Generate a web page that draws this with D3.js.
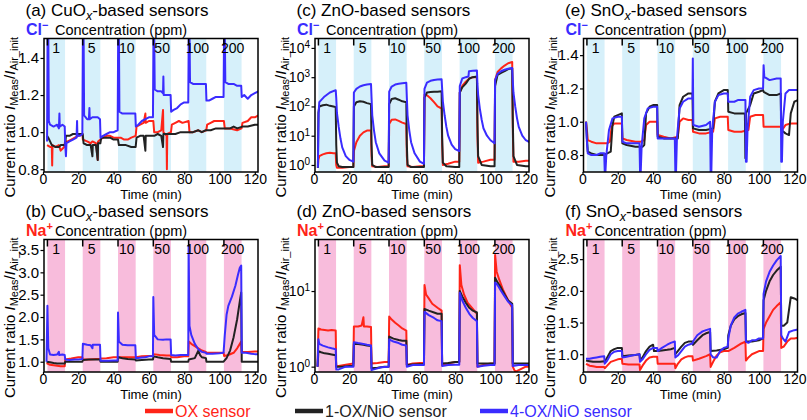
<!DOCTYPE html>
<html>
<head>
<meta charset="utf-8">
<script src="https://cdn.jsdelivr.net/npm/d3@7"></script>
<style>
  body { margin: 0; background: #fff; }
  svg text { font-family: "Liberation Sans", Arial, Helvetica, sans-serif; }
</style>
</head>
<body>
<svg id="fig" width="807" height="420"></svg>
<script>
// ---- exposure protocol ----
var bandStarts = [2.5, 22.5, 42.5, 62.5, 82.5, 102.5];
var bandLen = 10;
var concLabels = ["1", "5", "10", "50", "100", "200"];
var timeTicks = [0, 20, 40, 60, 80, 100, 120];
var seriesNames = ["OX sensor", "1-OX/NiO sensor", "4-OX/NiO sensor"];
var seriesColors = ["#ff2418", "#222222", "#3a2cff"];

// ---- (a) CuOx, Cl- ----
var cuClOX = [[2.3,0.93],[4,0.92],[5,0.92],[5.2,0.82],[5.4,0.93],[7,0.92],[9,0.93],[10,0.9],[12,0.92],[12.5,0.95],[14,0.95],[16,0.96],[18,0.97],[20,0.98],[22.3,0.99],[22.6,0.96],[25,0.95],[27,0.94],[28,0.95],[30,0.94],[31,0.85],[31.2,0.95],[32.5,0.96],[34,0.97],[36,0.98],[38,0.98],[40,0.97],[42.5,0.97],[44,0.97],[46,0.96],[48,0.96],[50,0.97],[52.5,0.98],[53,1.03],[55,1.04],[57,1.05],[58,1.1],[58.2,1.05],[60,1.06],[62.5,1.06],[63,1.0],[65,1.0],[67,1.01],[68,1.12],[68.2,1.0],[70,0.98],[70.2,0.8],[70.4,0.99],[72.5,1.0],[73,1.04],[75,1.05],[77,1.06],[79,1.05],[82.5,1.06],[83,1.0],[85,1.0],[88,1.01],[90,1.0],[92.5,1.01],[93,1.04],[95,1.05],[97,1.06],[100,1.06],[102.5,1.06],[103,1.02],[106,1.02],[110,1.01],[112.5,1.02],[113,1.05],[116,1.06],[118,1.08],[120,1.08],[122,1.09]];
var cuClNiO1 = [[2.3,0.98],[3,0.97],[4,0.95],[5,0.93],[7,0.92],[9,0.92],[10,0.93],[12.5,0.93],[13,0.98],[15,0.98],[17,0.99],[20,0.99],[22.5,0.99],[23,0.94],[25,0.93],[27,0.93],[28,0.87],[28.2,0.93],[30,0.93],[31,0.85],[31.2,0.94],[32.5,0.94],[33,0.97],[35,0.97],[38,0.97],[40,0.96],[42.5,0.96],[43,0.93],[45,0.93],[47,0.93],[50,0.92],[52.5,0.92],[53,0.97],[55,0.98],[57,0.98],[58,0.9],[58.2,0.98],[60,0.98],[62.5,0.98],[63,0.98],[65,0.99],[67,0.98],[68,0.92],[68.2,0.99],[70,0.99],[72,0.99],[75,0.99],[78,1.0],[80,1.0],[82,1.0],[85,1.0],[88,1.01],[90,1.0],[92,1.01],[95,1.01],[98,1.02],[100,1.02],[103,1.02],[106,1.02],[108,1.03],[110,1.02],[113,1.03],[116,1.03],[120,1.04],[122,1.04]];
var cuClNiO4 = [[2.3,0.95],[2.6,1.55],[3,1.55],[3.3,1.06],[4,1.04],[6,1.03],[8,1.04],[9,1.02],[9.3,1.1],[9.5,1.03],[11,1.04],[12.3,1.03],[12.6,0.93],[13,0.87],[13.3,0.94],[15,0.95],[17,0.96],[19,0.97],[19.3,1.06],[19.5,0.98],[21,0.98],[22.3,0.99],[22.6,1.55],[23,1.55],[23.3,1.09],[25,1.07],[26,1.07],[26.3,1.13],[26.5,1.07],[28,1.08],[31,1.08],[32.3,1.07],[32.6,0.97],[34,0.98],[36,0.99],[38,1.0],[40,1.0],[42.3,1.01],[42.6,1.55],[43,1.55],[43.3,1.11],[45,1.1],[48,1.1],[50,1.1],[52.3,1.1],[52.6,1.03],[54,1.04],[56,1.06],[58,1.07],[60,1.08],[62.3,1.08],[62.6,1.55],[63,1.55],[63.3,1.23],[65,1.22],[67,1.22],[68,1.21],[68.2,1.3],[68.4,1.2],[70,1.2],[72.3,1.2],[72.6,1.11],[74,1.12],[76,1.13],[78,1.15],[80,1.16],[82.3,1.16],[82.6,1.55],[83,1.55],[83.3,1.27],[85,1.26],[88,1.26],[90,1.26],[92.3,1.26],[92.6,1.17],[94,1.17],[96,1.18],[98,1.19],[100,1.19],[102.3,1.19],[102.6,1.55],[103,1.55],[103.3,1.27],[105,1.26],[108,1.26],[110,1.25],[112.3,1.25],[112.6,1.19],[114,1.2],[116,1.18],[118,1.2],[120,1.21],[122,1.22]];

// ---- (c) ZnO, Cl- ----
var znClOX = [[2.2,0.8],[2.5,1.5],[3,2.0],[5,2.3],[7,2.5],[9,2.6],[11,2.5],[12.3,2.5],[12.6,1.0],[13,0.8],[16,0.8],[20,0.85],[22.3,0.85],[22.6,3],[24,6],[26,10],[28,13],[30,15],[32.3,15],[32.6,2],[33,0.9],[36,0.85],[40,0.9],[42.3,0.9],[42.6,25],[44,35],[46,36],[48,32],[50,28],[52.3,25],[52.6,2],[53,0.9],[56,0.85],[60,0.9],[62.3,0.9],[62.6,250],[64,240],[66,190],[68,140],[70,100],[72.3,85],[72.6,5],[73,1.0],[76,1.1],[80,1.3],[82.3,1.3],[82.6,300],[84,500],[86,700],[88,900],[90,1000],[92.3,1000],[92.6,10],[93,1.2],[96,1.3],[100,1.5],[102.3,1.5],[102.6,800],[104,1500],[106,2000],[108,2500],[110,3000],[112.3,3300],[112.6,20],[113,1.3],[116,1.3],[120,1.4],[122,1.4]];
var znClNiO1 = [[2.2,0.8],[2.5,60],[3,100],[5,110],[7,115],[9,105],[11,100],[12.3,95],[12.6,5],[13,1.2],[14,0.9],[16,0.85],[20,0.85],[22.3,0.85],[22.6,100],[24,140],[26,150],[28,145],[30,130],[32.3,120],[32.6,5],[33,1.0],[35,0.85],[40,0.85],[42.3,0.85],[42.6,120],[44,180],[46,190],[48,170],[50,150],[52.3,140],[52.6,5],[53,1.0],[55,0.85],[60,0.85],[62.3,0.85],[62.6,200],[64,300],[66,310],[68,320],[70,320],[72.3,330],[72.6,10],[73,1.2],[75,0.9],[80,0.85],[82.3,0.85],[82.6,300],[84,450],[86,600],[88,900],[90,1000],[92.3,1050],[92.6,30],[93,2],[95,1.0],[100,0.9],[102.3,0.9],[102.6,500],[104,1200],[106,1400],[108,1600],[110,1900],[112.3,2000],[112.6,50],[113,2],[115,1.0],[120,0.9],[122,0.9]];
var znClNiO4 = [[2.2,0.8],[2.6,60],[3,140],[6,220],[9,300],[12.3,360],[12.6,200],[13,60],[14,20],[15,8],[16,4],[18,2],[20,1.5],[22.3,1.3],[22.6,300],[24,400],[26,480],[28,530],[30,560],[32.3,580],[32.6,200],[33,50],[34,15],[35,6],[37,2.5],[40,1.4],[42.3,1.2],[42.6,320],[44,480],[46,560],[48,600],[50,620],[52.3,640],[52.6,200],[53,50],[54,15],[55,6],[57,2.5],[60,1.3],[62.3,1.1],[62.6,400],[64,650],[66,750],[68,800],[70,830],[72.3,850],[72.6,400],[73,150],[74,50],[75,20],[76,10],[78,5],[80,3.5],[82.3,3],[82.6,500],[84,900],[86,1000],[87.5,1050],[87.8,1600],[90,1650],[92.3,1700],[92.6,600],[93,250],[94,80],[95,35],[96,18],[98,10],[100,7],[102.3,5.5],[102.6,800],[104,1300],[106,1600],[108,1800],[110,1950],[112.3,2050],[112.6,800],[113,300],[114,100],[115,40],[116,20],[118,10],[120,7],[122,6]];

// ---- (e) SnOx, Cl- ----
var snClOX = [[2,1.0],[2.5,0.95],[3,0.89],[5,0.88],[8,0.87],[12,0.87],[14,0.87],[15.5,0.88],[16.5,0.97],[18,0.99],[20,0.99],[22.3,0.99],[22.6,0.9],[25,0.89],[30,0.88],[33,0.88],[35,0.89],[36,0.98],[38,1.0],[40,1.0],[42.3,1.0],[42.6,0.92],[46,0.91],[50,0.9],[54,0.91],[55,1.0],[57,1.02],[60,1.01],[62.3,1.01],[62.6,0.94],[66,0.93],[70,0.93],[74,0.94],[75,1.02],[78,1.03],[82.3,1.03],[82.6,0.95],[86,0.94],[90,0.94],[94,0.95],[95,1.03],[98,1.04],[102.3,1.04],[102.6,0.97],[106,0.97],[110,0.97],[112.3,0.97],[113,0.95],[115,0.98],[118,0.99],[120,0.99],[122,0.99]];
var snClNiO1 = [[2,1.0],[2.5,0.9],[3,0.82],[5,0.81],[8,0.8],[12,0.8],[14,0.81],[16,0.82],[17,0.98],[18,1.03],[20,1.04],[22.3,1.05],[22.6,0.87],[25,0.86],[30,0.85],[34,0.85],[35,0.86],[36,1.05],[38,1.09],[40,1.1],[42.3,1.1],[42.6,0.91],[46,0.9],[50,0.9],[54,0.9],[55,1.1],[57,1.15],[60,1.17],[62.3,1.17],[62.6,0.96],[66,0.95],[70,0.95],[74,0.96],[75,1.12],[77,1.17],[80,1.19],[82.3,1.19],[82.6,1.06],[86,1.05],[90,1.05],[92,1.05],[92.3,0.78],[92.6,1.05],[95,1.1],[97,1.17],[100,1.18],[102.3,1.19],[102.6,1.18],[106,1.16],[110,1.16],[112.3,1.17],[112.6,0.95],[115,0.93],[117,0.92],[118,1.05],[120,1.12],[122,1.13]];
var snClNiO4 = [[2,1.0],[2.5,0.88],[3,0.81],[5,0.8],[8,0.8],[10,0.81],[12.3,0.81],[12.6,0.7],[13,0.7],[13.5,0.8],[15,0.95],[17,1.02],[20,1.03],[22.3,1.03],[22.6,0.88],[25,0.87],[30,0.87],[32.3,0.87],[32.6,0.7],[33,0.7],[33.5,0.85],[35,1.02],[37,1.08],[40,1.09],[42.3,1.09],[42.6,0.9],[46,0.9],[50,0.9],[52.3,0.9],[52.6,0.7],[53,0.7],[53.5,0.9],[55,1.08],[57,1.12],[60,1.14],[62.3,1.14],[62.5,1.38],[62.8,0.98],[66,0.97],[70,0.98],[72.3,1.0],[72.6,0.7],[73,0.7],[73.5,0.95],[75,1.12],[77,1.16],[80,1.17],[82.3,1.17],[82.6,1.12],[86,1.12],[88,1.13],[90,1.13],[92.3,1.13],[92.6,0.76],[93,0.76],[93.5,0.95],[95,1.15],[97,1.19],[100,1.2],[102.3,1.2],[102.6,1.34],[103,1.27],[106,1.25],[110,1.26],[112.3,1.26],[112.6,0.76],[113,0.76],[113.5,1.0],[115,1.17],[117,1.19],[120,1.19],[122,1.19]];

// ---- (b) CuOx, Na+ ----
var cuNaOX = [[2,0.97],[4,0.93],[6,0.92],[8,0.91],[10,0.9],[12.3,0.9],[12.6,1.05],[16,1.07],[20,1.1],[22.3,1.1],[22.6,1.05],[26,1.05],[30,1.06],[32.3,1.06],[32.6,1.07],[36,1.08],[40,1.1],[42.3,1.1],[42.6,1.1],[46,1.1],[50,1.1],[52.3,1.1],[52.6,1.1],[56,1.12],[60,1.13],[62.3,1.13],[62.6,1.17],[66,1.15],[70,1.14],[72.3,1.14],[72.6,1.1],[76,1.1],[80,1.12],[82.3,1.12],[82.6,1.45],[84,1.4],[86,1.35],[88,1.3],[90,1.25],[92.3,1.22],[92.6,1.2],[96,1.2],[100,1.2],[102.3,1.2],[102.6,1.13],[105,1.15],[108,1.2],[110,1.3],[112.3,1.45],[112.6,1.22],[116,1.22],[120,1.23],[122,1.23]];
var cuNaNiO1 = [[2,1.0],[4,0.99],[6,0.97],[8,0.96],[10,0.96],[12.3,0.96],[12.6,1.0],[16,1.0],[20,1.0],[22.3,1.0],[22.6,1.04],[26,1.05],[30,1.05],[32.3,1.05],[32.6,1.0],[36,1.0],[40,1.0],[42.3,1.0],[42.6,1.1],[45,1.08],[48,1.06],[52.3,1.05],[52.6,1.03],[56,1.04],[60,1.05],[62.3,1.05],[62.6,1.12],[65,1.1],[68,1.08],[72.3,1.06],[72.6,1.0],[76,1.0],[80,1.0],[82.3,1.0],[82.6,1.05],[86,1.08],[88,1.25],[89,1.15],[90,1.1],[92.3,1.08],[92.6,1.0],[96,1.0],[100,1.0],[102.3,1.0],[104,1.08],[106,1.25],[108,1.55],[110,1.95],[111.5,2.35],[112.3,2.55],[112.6,1.0],[116,1.0],[120,1.0],[122,1.0]];
var cuNaNiO4 = [[2,1.0],[2.5,2.25],[3,1.3],[4,1.16],[6,1.15],[8,1.16],[9,1.22],[9.2,1.15],[11,1.16],[12.3,1.15],[12.6,1.05],[15,1.04],[18,1.05],[20,1.05],[22.3,1.06],[22.6,1.4],[25,1.38],[27,1.37],[28,1.3],[28.2,1.38],[30,1.38],[32.3,1.38],[32.6,1.02],[36,1.02],[40,1.03],[42.3,1.03],[42.5,2.1],[43,1.45],[45,1.38],[48,1.37],[50,1.37],[52.3,1.37],[52.6,1.08],[55,1.09],[58,1.1],[60,1.12],[62.3,1.12],[62.5,2.45],[63,1.6],[65,1.5],[68,1.49],[70,1.5],[72.3,1.5],[72.6,1.15],[75,1.14],[78,1.15],[80,1.15],[82.3,1.15],[82.5,3.6],[83,1.8],[84,1.6],[86,1.4],[88,1.28],[90,1.22],[92.3,1.2],[92.6,1.18],[96,1.18],[100,1.19],[102.3,1.2],[103,1.6],[104,2.05],[105,2.25],[107,2.45],[109,2.7],[110.5,2.95],[111.5,3.1],[112.3,3.15],[112.6,1.2],[115,1.2],[118,1.18],[120,1.17],[122,1.17]];

// ---- (d) ZnO, Na+ ----
var znNaOX = [[2,1.0],[2.5,3.2],[4,3.1],[6,3.05],[8,3.0],[10,3.05],[12.3,3.0],[12.6,1.0],[14,1.02],[18,1.06],[22.3,1.1],[22.6,3.4],[25,3.4],[27,3.5],[28,4.5],[28.3,3.4],[30,3.4],[32.3,3.35],[32.6,1.1],[36,1.12],[40,1.15],[42.3,1.15],[42.6,4.6],[44,4.2],[46,3.8],[48,3.5],[50,3.2],[52.3,3.0],[52.6,1.05],[56,1.1],[60,1.12],[62.3,1.12],[62.6,12],[63.5,9],[65,8],[67,6.8],[70,6],[72.3,5.5],[72.6,1.05],[76,1.1],[80,1.15],[82.3,1.15],[82.6,22],[83.5,12],[85,9],[87,7],[90,5.8],[92.3,5],[92.6,1.0],[96,1.05],[100,1.1],[102.3,1.1],[102.6,30],[103.5,18],[105,14],[107,10.5],[110,7.5],[112.3,6],[112.6,1.0],[114,0.85],[116,0.9],[120,1.0],[122,1.0]];
var znNaNiO1 = [[2,1.0],[2.5,1.6],[4,1.55],[6,1.5],[8,1.48],[10,1.45],[12.3,1.42],[12.6,1.0],[16,1.0],[20,1.02],[22.3,1.02],[22.6,2.0],[25,2.0],[28,1.95],[30,1.9],[32.3,1.88],[32.6,0.95],[36,0.97],[40,1.0],[42.3,1.0],[42.6,2.5],[45,2.35],[48,2.25],[50,2.2],[52.3,2.2],[52.6,1.05],[56,1.07],[60,1.08],[62.3,1.08],[62.6,5.8],[65,5.5],[68,5.2],[70,5.0],[72.3,5.0],[72.6,1.1],[76,1.12],[80,1.15],[82.3,1.15],[82.6,10],[84,8.5],[86,7],[88,6],[90,5.5],[92.3,5.2],[92.6,1.1],[96,1.1],[100,1.1],[102.3,1.1],[102.6,15],[104,13],[106,11],[108,9],[110,7.5],[112.3,6.8],[112.6,1.1],[116,1.1],[120,1.1],[122,1.1]];
var znNaNiO4 = [[2,1.0],[2.5,2.3],[3,2.0],[5,1.9],[8,1.8],[10,1.75],[12.3,1.7],[12.6,0.92],[14,0.92],[18,1.0],[22.3,1.0],[22.6,2.1],[25,2.05],[28,2.0],[30,1.95],[32.3,1.9],[32.6,0.9],[34,0.92],[38,0.98],[42.3,1.0],[42.6,2.3],[45,2.15],[48,2.05],[50,1.95],[52.3,1.9],[52.6,1.0],[56,1.05],[60,1.05],[62.3,1.05],[62.6,5.3],[65,4.8],[68,4.4],[70,4.1],[72.3,4.0],[72.6,1.02],[76,1.05],[80,1.06],[82.3,1.06],[82.6,9.5],[84,7.5],[86,6],[88,5],[90,4.4],[92.3,4.0],[92.6,1.0],[96,1.03],[100,1.05],[102.3,1.05],[102.6,13],[104,12],[106,10],[108,8.5],[110,7.2],[112.3,6.5],[112.6,1.02],[116,1.05],[120,1.05],[122,1.05]];

// ---- (f) SnOx, Na+ ----
var snNaOX = [[2,0.85],[4,0.82],[6,0.81],[8,0.8],[10,0.8],[12.3,0.8],[12.6,0.78],[14,0.82],[16,0.88],[18,0.9],[20,0.92],[22.3,0.93],[22.6,0.85],[26,0.84],[30,0.84],[32.3,0.84],[32.6,0.75],[34,0.82],[36,0.9],[38,0.95],[40,0.96],[42.3,0.96],[42.6,0.85],[46,0.85],[50,0.85],[52.3,0.85],[52.6,0.78],[54,0.85],[56,0.92],[58,0.95],[60,0.97],[62.3,0.97],[62.6,0.9],[66,0.93],[70,0.97],[72.3,1.0],[72.6,0.8],[74,0.88],[76,0.98],[78,1.03],[80,1.05],[82.3,1.05],[82.6,1.05],[86,1.1],[90,1.17],[92.3,1.2],[92.6,0.9],[94,0.95],[96,1.0],[100,1.05],[102.3,1.05],[102.6,1.4],[104,1.5],[106,1.6],[108,1.7],[110,1.76],[112.3,1.82],[112.6,1.1],[114,1.12],[116,1.2],[118,1.25],[120,1.25],[122,1.26]];
var snNaNiO1 = [[2,0.9],[4,0.89],[6,0.88],[8,0.88],[10,0.88],[12.3,0.89],[12.6,0.88],[14,0.95],[16,1.05],[18,1.08],[20,1.1],[22.3,1.1],[22.6,0.97],[26,0.98],[30,0.99],[32.3,1.0],[32.6,0.9],[34,0.95],[36,1.05],[38,1.12],[40,1.15],[40.5,1.05],[42.6,1.05],[45,1.06],[48,1.07],[50,1.08],[52.3,1.1],[52.6,1.0],[54,1.05],[56,1.12],[58,1.18],[60,1.2],[62.3,1.2],[62.6,1.15],[65,1.22],[68,1.3],[70,1.33],[72.3,1.35],[72.6,1.05],[76,1.06],[80,1.08],[82.3,1.1],[82.6,1.3],[84,1.45],[86,1.55],[88,1.6],[90,1.63],[92.3,1.65],[92.6,1.2],[96,1.2],[100,1.22],[102.3,1.25],[102.6,1.85],[104,2.0],[106,2.15],[108,2.25],[110,2.32],[112.3,2.38],[112.6,1.45],[114,1.45],[116,1.5],[118,1.9],[120,1.88],[122,1.85]];
var snNaNiO4 = [[2,0.93],[4,0.93],[6,0.94],[8,0.95],[10,0.96],[12.3,0.97],[12.6,0.85],[14,0.9],[16,1.0],[18,1.04],[20,1.05],[22.3,1.05],[22.6,0.95],[25,0.96],[28,0.98],[30,0.99],[32.3,1.0],[32.6,0.88],[34,0.92],[36,1.0],[38,1.07],[40,1.1],[42.3,1.1],[42.6,1.05],[45,1.1],[48,1.15],[50,1.18],[52.3,1.2],[52.6,0.95],[54,0.98],[56,1.05],[58,1.12],[60,1.15],[62.3,1.17],[62.6,1.2],[65,1.3],[68,1.36],[70,1.38],[72.3,1.4],[72.6,1.0],[74,0.95],[76,0.95],[78,1.05],[80,1.1],[82.3,1.12],[82.6,1.25],[84,1.45],[86,1.58],[88,1.64],[90,1.67],[92.3,1.7],[92.6,1.2],[94,1.18],[96,1.22],[98,1.22],[100,1.25],[102.3,1.25],[102.6,1.95],[104,2.15],[106,2.3],[108,2.4],[110,2.48],[112.3,2.55],[112.6,1.3],[113.5,1.25],[115,1.2],[117,1.35],[120,1.38],[122,1.39]];

// ---- y tick values ----
var ticksCuCl = [0.8, 1.0, 1.2, 1.4];
var ticksZnCl = [1, 10, 100, 1000, 10000];
var ticksSnCl = [0.8, 1.0, 1.2, 1.4];
var ticksCuNa = [1.0, 1.5, 2.0, 2.5, 3.0, 3.5];
var ticksZnNa = [1, 10];
var ticksSnNa = [1.0, 1.5, 2.0, 2.5];

var colX0 = [43, 314, 582.5];   // pixel of t = 0 in each column
var rowTop = [38.5, 239.5], rowBot = [172, 372];
var pxPerMin = 1.765;
var blueIon = "#3a2cff", redIon = "#ff2418";
var bandBlue = "#d6f0fa", bandPink = "#f8bcdc";

var panels = [
  {id: "a", col: 0, row: 0, mat: "CuO", sub: "x", ion: "Cl", sign: "\u2212", ionColor: blueIon, band: bandBlue, log: false, domain: [0.785, 1.505], ticks: ticksCuCl, data: [cuClOX, cuClNiO1, cuClNiO4]},
  {id: "c", col: 1, row: 0, mat: "ZnO", sub: "",  ion: "Cl", sign: "\u2212", ionColor: blueIon, band: bandBlue, log: true,  domain: [0.575, 21000], ticks: ticksZnCl, data: [znClOX, znClNiO1, znClNiO4]},
  {id: "e", col: 2, row: 0, mat: "SnO", sub: "x", ion: "Cl", sign: "\u2212", ionColor: blueIon, band: bandBlue, log: false, domain: [0.698, 1.5], ticks: ticksSnCl, data: [snClOX, snClNiO1, snClNiO4]},
  {id: "b", col: 0, row: 1, mat: "CuO", sub: "x", ion: "Na", sign: "+", ionColor: redIon, band: bandPink, log: false, domain: [0.77, 3.735], ticks: ticksCuNa, data: [cuNaOX, cuNaNiO1, cuNaNiO4]},
  {id: "d", col: 1, row: 1, mat: "ZnO", sub: "",  ion: "Na", sign: "+", ionColor: redIon, band: bandPink, log: true,  domain: [0.85, 48], ticks: ticksZnNa, data: [znNaOX, znNaNiO1, znNaNiO4]},
  {id: "f", col: 2, row: 1, mat: "SnO", sub: "x", ion: "Na", sign: "+", ionColor: redIon, band: bandPink, log: false, domain: [0.72, 2.81], ticks: ticksSnNa, data: [snNaOX, snNaNiO1, snNaNiO4]}
];

var svg = d3.select("#fig");

function drawPanel(p) {
  var x0 = colX0[p.col], top = rowTop[p.row], bot = rowBot[p.row];
  var left = x0 + 1, right = x0 + 215;
  var x = d3.scaleLinear().domain([0, 120]).range([x0, x0 + 120 * pxPerMin]);
  var y = (p.log ? d3.scaleLog() : d3.scaleLinear()).domain(p.domain).range([bot, top]);
  var g = svg.append("g").attr("class", "panel-" + p.id);

  svg.append("clipPath").attr("id", "clip-" + p.id)
    .append("rect").attr("x", left).attr("y", top)
    .attr("width", right - left).attr("height", bot - top);

  // exposure bands
  g.selectAll("rect.band").data(bandStarts).enter().append("rect")
    .attr("class", "band")
    .attr("x", function(d) { return x(d); })
    .attr("width", function(d) { return x(d + bandLen) - x(d); })
    .attr("y", top).attr("height", bot - top)
    .attr("fill", p.band);

  // traces
  var line = d3.line().x(function(d) { return x(d[0]); }).y(function(d) { return y(d[1]); });
  var lg = g.append("g").attr("clip-path", "url(#clip-" + p.id + ")");
  p.data.forEach(function(s, i) {
    lg.append("path").datum(s).attr("d", line)
      .attr("fill", "none").attr("stroke", seriesColors[i])
      .attr("stroke-width", 2).attr("stroke-linejoin", "round");
  });

  // frame
  g.append("rect").attr("x", left).attr("y", top)
    .attr("width", right - left).attr("height", bot - top)
    .attr("fill", "none").attr("stroke", "#000").attr("stroke-width", 1.5);

  // concentration ticks + labels on top
  g.selectAll("line.ctick").data(bandStarts).enter().append("line")
    .attr("x1", function(d) { return x(d); }).attr("x2", function(d) { return x(d); })
    .attr("y1", top).attr("y2", top + 7)
    .attr("stroke", "#000").attr("stroke-width", 1.5);
  g.selectAll("text.conc").data(bandStarts).enter().append("text")
    .attr("x", function(d) { return x(d + 5); }).attr("y", top + 14.5)
    .attr("text-anchor", "middle").attr("font-size", 14)
    .text(function(d, i) { return concLabels[i]; });

  // y axis
  var yAxis = d3.axisLeft(y).tickValues(p.ticks).tickSize(3.5).tickPadding(1.5)
    .tickFormat(p.log ? function() { return ""; } : d3.format(".1f"));
  var ya = g.append("g").attr("transform", "translate(" + left + ",0)").call(yAxis);
  ya.select(".domain").remove();
  ya.attr("font-size", p.log ? 14 : 15).attr("font-family", null);
  ya.selectAll("line").attr("stroke-width", 1.2);
  if (p.log) {
    ya.selectAll(".tick text").each(function(d) {
      var t = d3.select(this);
      t.append("tspan").text("10");
      t.append("tspan").attr("dy", "-0.5em").attr("font-size", 10).text(Math.round(Math.log10(d)));
    });
  }

  // x axis
  var xAxis = d3.axisBottom(x).tickValues(timeTicks).tickSize(2.5).tickPadding(0).tickFormat(d3.format("d"));
  var xa = g.append("g").attr("transform", "translate(0," + bot + ")").call(xAxis);
  xa.select(".domain").remove();
  xa.attr("font-size", 14).attr("font-family", null);
  xa.selectAll("line").attr("stroke-width", 1.2);

  g.append("text").attr("x", (left + right) / 2).attr("y", bot + 27.3)
    .attr("text-anchor", "middle").attr("font-size", 13).text("Time (min)");

  // y label
  var yl = g.append("text")
    .attr("transform", "translate(" + (left - 29) + "," + ((top + bot) / 2 + 12) + ") rotate(-90)")
    .attr("text-anchor", "middle").attr("font-size", 15);
  yl.append("tspan").text("Current ratio ");
  yl.append("tspan").attr("font-style", "italic").text("I");
  yl.append("tspan").attr("font-size", 11).attr("dy", 2.5).text("Meas");
  yl.append("tspan").attr("dy", -2.5).text("/");
  yl.append("tspan").attr("font-style", "italic").text("I");
  yl.append("tspan").attr("font-size", 11).attr("dy", 2.5).text("Air_init");

  // title
  var tt = g.append("text").attr("x", left - 18.5).attr("y", top - 22.5).attr("font-size", 17);
  tt.append("tspan").text("(" + p.id + ") " + p.mat);
  if (p.sub) {
    tt.append("tspan").attr("font-size", 12.5).attr("font-style", "italic").attr("dy", 4).text(p.sub);
    tt.append("tspan").attr("dy", -4).text("-based sensors");
  } else {
    tt.append("tspan").text("-based sensors");
  }

  // ion + concentration heading
  var it = g.append("text").attr("x", left - 18).attr("y", top - 3.5)
    .attr("font-size", 16).attr("font-weight", "bold").attr("fill", p.ionColor);
  it.append("tspan").text(p.ion);
  it.append("tspan").attr("dy", -6).attr("font-size", 11).text(p.sign);
  g.append("text").attr("x", left + 11).attr("y", top - 3.5)
    .attr("font-size", 14.5).text("Concentration (ppm)");
}

panels.forEach(drawPanel);

// legend
var legX = [145, 295, 480];
var leg = svg.append("g").selectAll("g").data(seriesNames).enter().append("g")
  .attr("transform", function(d, i) { return "translate(" + legX[i] + ",411)"; });
leg.append("line").attr("x1", 0).attr("x2", 28).attr("y1", 0).attr("y2", 0)
  .attr("stroke", function(d, i) { return seriesColors[i]; }).attr("stroke-width", 4.5);
leg.append("text").attr("x", 30).attr("y", 5.5).attr("font-size", 16)
  .attr("fill", function(d, i) { return seriesColors[i]; })
  .text(function(d) { return d; });
</script>
</body>
</html>
